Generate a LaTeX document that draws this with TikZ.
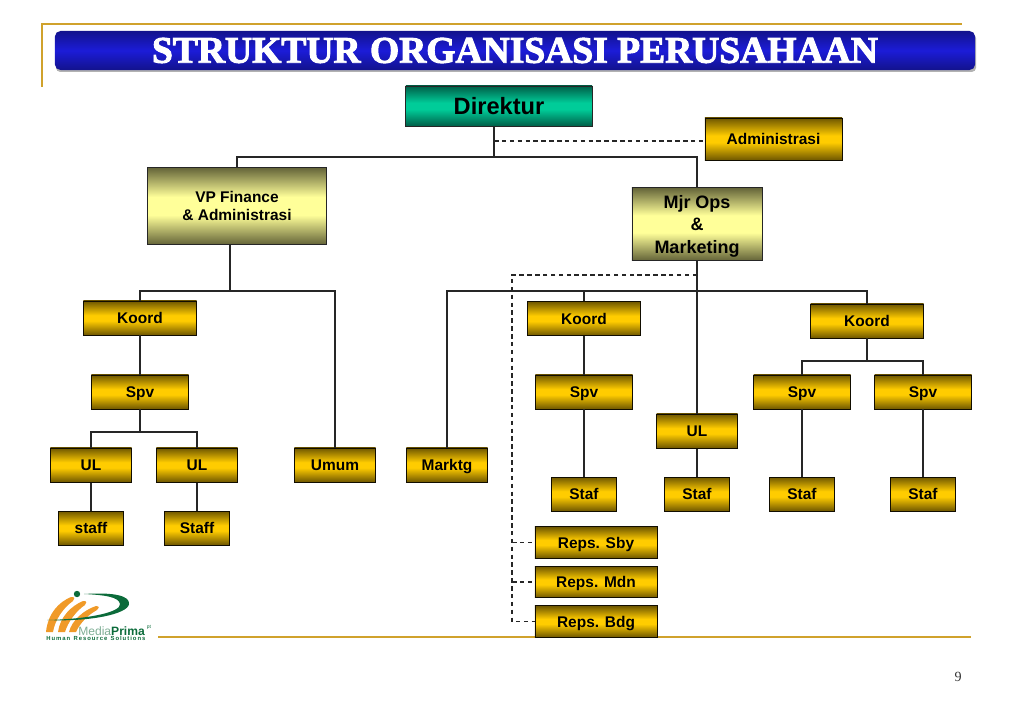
\documentclass[tikz,border=0pt]{standalone}
\usepackage{fontspec}
\setmainfont{Liberation Sans}
\newfontfamily\titlefont[FakeBold=2.6]{Liberation Serif Bold}
\newfontfamily\pagefont{Liberation Serif}
\usetikzlibrary{arrows.meta,positioning}
\definecolor{goldline}{HTML}{D0A22C}
\definecolor{golddark}{HTML}{6F5700}
\definecolor{goldmid}{HTML}{FFCC00}
\definecolor{olivedark}{HTML}{66663A}
\definecolor{olivemid}{HTML}{FFFF99}
\definecolor{tealdark}{HTML}{005F48}
\definecolor{tealmid}{HTML}{00CC99}
\definecolor{barblue}{HTML}{1C1CD8}
\definecolor{bardark}{HTML}{12128C}
\definecolor{logoorange}{HTML}{F09A28}
\definecolor{logogreen}{HTML}{0B6B3A}
\definecolor{logolight}{HTML}{7FAE95}
\pgfdeclareverticalshading{goldshade}{100bp}{color(0bp)=(golddark); color(25bp)=(golddark); color(46bp)=(goldmid); color(54bp)=(goldmid); color(75bp)=(golddark); color(100bp)=(golddark)}
\pgfdeclareverticalshading{oliveshade}{100bp}{color(0bp)=(olivedark); color(25bp)=(olivedark); color(44bp)=(olivemid); color(56bp)=(olivemid); color(75bp)=(olivedark); color(100bp)=(olivedark)}
\pgfdeclareverticalshading{tealshade}{100bp}{color(0bp)=(tealdark); color(25bp)=(tealdark); color(46bp)=(tealmid); color(54bp)=(tealmid); color(75bp)=(tealdark); color(100bp)=(tealdark)}

\begin{document}
\begin{tikzpicture}[
      x=0.025cm,y=-0.025cm,
      goldbox/.style={draw=black!85!golddark,line width=0.7pt,shade,shading=goldshade,
                   inner sep=0pt,minimum height=0.85cm,text height=8pt,text depth=0pt,
                   font=\fontsize{11}{13}\selectfont\bfseries},
      koordbox/.style={goldbox,minimum width=2.825cm},
      spvbox/.style={goldbox,minimum width=2.425cm},
      ulbox/.style={goldbox,minimum width=2.025cm},
      stafbox/.style={goldbox,minimum width=1.625cm},
      repsbox/.style={goldbox,minimum width=3.05cm,minimum height=0.78cm},
      vpbox/.style={draw=black!85,line width=0.7pt,shade,shading=oliveshade,inner sep=0pt,align=center},
      conn/.style={draw=black!85,line width=0.75pt},
      dashconn/.style={conn,dash pattern=on 3.2pt off 2.4pt}]
    % header
    \draw[goldline,line width=1.2pt] (42,87)--(42,24)--(962,24);
    \fill[black!30,rounded corners=3pt] (56,34) rectangle (976,72);
    \node[rounded corners=4pt,minimum width=23cm,minimum height=0.975cm,inner sep=0pt,
          top color=bardark,bottom color=bardark,middle color=barblue] (bar) at (515,50.5) {};
    \node[text=white,font=\titlefont\fontsize{26.7}{30}\selectfont] (title) at (515,50.5) {STRUKTUR ORGANISASI PERUSAHAAN};
    \draw[goldline,line width=1.2pt] (158,637)--(971,637);

    % top of the chart
    \node[draw=black!85,line width=0.7pt,shade,shading=tealshade,
          minimum width=4.65cm,minimum height=1cm,inner sep=0pt,
          font=\fontsize{16.8}{20}\selectfont\bfseries] (dir) at (499,106) {Direktur};
    \node[goldbox,minimum width=3.425cm,minimum height=1.05cm] (adm) at (773.5,139) {Administrasi};
    \node[vpbox,minimum width=4.45cm,minimum height=1.9cm,font=\fontsize{11}{13}\selectfont\bfseries] (vp) at (237,206) {VP Finance\\\& Administrasi};
    \node[vpbox,minimum width=3.25cm,minimum height=1.8cm,font=\fontsize{12.8}{16}\selectfont\bfseries] (mjr) at (697,224) {\rule{0pt}{12pt}Mjr Ops\\\&\\Marketing};

    % left branch
    \node[koordbox] (koordA) at (140,318) {Koord};
    \node[spvbox] (spvA) at (140,392) {Spv};
    \node[ulbox] (ulA) at (91,465) {UL};
    \node[ulbox] (ulB) at (197,465) {UL};
    \node[ulbox] (umum) at (335,465) {Umum};
    \node[stafbox] (staffA) at (91,528) {staff};
    \node[stafbox] (staffB) at (197,528) {Staff};

    % right branch
    \node[ulbox] (marktg) at (447,465) {Marktg};
    \node[koordbox] (koordB) at (584,318.5) {Koord};
    \node[spvbox] (spvB) at (584,392) {Spv};
    \node[stafbox] (stafB) at (584,494) {Staf};
    \node[ulbox] (ulC) at (697,431) {UL};
    \node[stafbox] (stafC) at (697,494) {Staf};
    \node[koordbox] (koordC) at (867,321) {Koord};
    \node[spvbox] (spvC) at (802,392) {Spv};
    \node[spvbox] (spvD) at (923,392) {Spv};
    \node[stafbox] (stafD) at (802,494) {Staf};
    \node[stafbox] (stafE) at (923,494) {Staf};
    \node[repsbox] (repsA) at (596,542.5) {Reps. Sby};
    \node[repsbox] (repsB) at (596,582) {Reps. Mdn};
    \node[repsbox] (repsC) at (596,621.5) {Reps. Bdg};

    % connectors
    \coordinate (busTop) at (494,157);
    \coordinate (admTee) at (494,141);
    \coordinate (vpFoot) at (230,291);
    \coordinate (busBleft) at (447,291);
    \coordinate (ulBus) at (140,432);
    \coordinate (spvBus) at (867,361);
    \coordinate (dashTop) at (697,275);
    \coordinate (dashCorner) at (512,275);
    \draw[conn] (dir.south -| busTop)--(busTop);
    \draw[conn] (vp.north)|-(busTop)-|(mjr.north);
    \draw[dashconn] (admTee)--(adm.west |- admTee);
    \draw[conn] (vp.south -| vpFoot)--(vpFoot);
    \draw[conn] (koordA.north)|-(vpFoot)-|(umum.north);
    \draw[conn] (koordA)--(spvA);
    \draw[conn] (spvA.south)--(ulBus);
    \draw[conn] (ulA.north)|-(ulBus)-|(ulB.north);
    \draw[conn] (ulA)--(staffA);
    \draw[conn] (ulB)--(staffB);
    \draw[conn] (marktg.north)|-(koordC.north |- busBleft)--(koordC.north);
    \draw[conn] (koordB.north |- busBleft)--(koordB.north);
    \draw[conn] (koordB)--(spvB);
    \draw[conn] (spvB)--(stafB);
    \draw[conn] (mjr)--(ulC);
    \draw[conn] (ulC)--(stafC);
    \draw[conn] (koordC.south)--(spvBus);
    \draw[conn] (spvC.north)|-(spvBus)-|(spvD.north);
    \draw[conn] (spvC)--(stafD);
    \draw[conn] (spvD)--(stafE);
    \draw[dashconn] (dashTop)--(dashCorner)|-(repsC.west);
    \draw[dashconn] (dashCorner |- repsA.west)--(repsA.west);
    \draw[dashconn] (dashCorner |- repsB.west)--(repsB.west);

    % logo
    \fill[logoorange] (46,632) .. controls (48,613) and (59,602) .. (71,597) .. controls (75,596) and (75,600) .. (73,601) .. controls (63,608) and (55,620) .. (53,632) -- cycle;
    \fill[logoorange] (58,632) .. controls (60,617) and (71,606) .. (83,601) .. controls (87,600) and (87,604) .. (85,605) .. controls (76,611) and (68,622) .. (65,632) -- cycle;
    \fill[logoorange] (69,632) .. controls (72,620) and (84,610) .. (96,606) .. controls (100,606) and (99,609) .. (97,610) .. controls (88,615) and (80,623) .. (76,632) -- cycle;
    \fill[logogreen] (77,594) circle (3.2);
    \fill[logogreen] (84,594) .. controls (115,592) and (130,596) .. (129,604) .. controls (128,614) and (90,622) .. (47,620) .. controls (90,619) and (121,612) .. (120,604) .. controls (119,597) and (105,595) .. (84,594) -- cycle;
    \node[anchor=west,inner sep=0pt,font=\fontsize{8.6}{9}\selectfont] (logoname) at (78,631) {\textcolor{logolight}{Media}\textcolor{logogreen}{\textbf{Prima}}};
    \node[inner sep=0pt,text=logogreen,font=\fontsize{3.5}{4}\selectfont] (logopt) at (149,627) {pt};
    \node[anchor=west,inner sep=0pt,text=logogreen,font=\fontsize{4.2}{5}\selectfont\bfseries] (logotag) at (46,638.5) {H\,u\,m\,a\,n\ \ R\,e\,s\,o\,u\,r\,c\,e\ \ S\,o\,l\,u\,t\,i\,o\,n\,s};

    \node[text=black!80,font=\pagefont\fontsize{10}{12}\selectfont] (pagenum) at (958,677) {9};
    \useasboundingbox (0,0) rectangle (1023,708);
  \end{tikzpicture}
\end{document}
